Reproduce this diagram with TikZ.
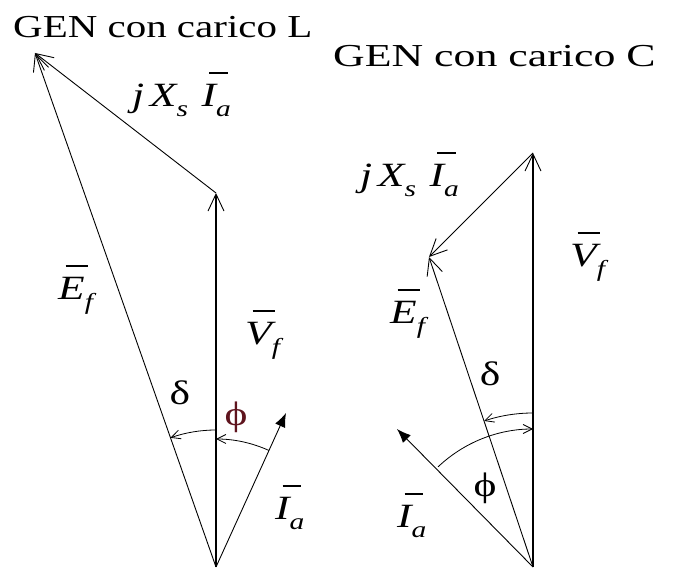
\documentclass[tikz,border=0pt]{standalone}
\usepackage{fontspec}
\setmainfont{Liberation Serif}[FakeStretch=1.28]
\usetikzlibrary{arrows.meta}
\definecolor{phired}{RGB}{95,20,30}
\newdimen\barwd
\newcommand{\ovl}[1]{{\sbox0{#1}\barwd=\dimexpr\wd0-0.12em\relax
  \ifdim\barwd<0.55em \barwd=0.55em\fi
  \rlap{\hspace{0.22em}\rule[\dimexpr\ht0+0.32em\relax]{\barwd}{0.045em}}\usebox0}}
\newcommand{\subsc}[1]{\raisebox{-0.28em}{\fontsize{23}{23}\selectfont\itshape #1}}
\newcommand{\phasor}[2]{\ovl{\itshape #1}\subsc{#2}}
\begin{document}
\begin{tikzpicture}[x=1pt,y=1pt,
  vec/.style={line width=0.9pt,-{Straight Barb[length=17pt,width=16pt,line width=0.9pt]}},
  vvec/.style={line width=1.3pt,-{Straight Barb[length=17pt,width=16pt,line width=0.9pt]}},
  ivec/.style={line width=0.9pt,-{Latex[length=14pt,width=11pt]}},
  arcarrow/.style={line width=0.8pt,-{Straight Barb[length=9pt,width=9pt,line width=0.8pt]}},
  lbl/.style={inner sep=0pt,font=\fontsize{34}{38}\selectfont},
  ttl/.style={inner sep=0pt,font=\fontsize{32}{36}\selectfont,anchor=base west}]
\useasboundingbox (0,0) rectangle (673,579);
% ---------- left diagram ----------
\coordinate (O1) at (216,12);
\coordinate (V1) at (216,386);
\coordinate (P1) at (35,526);
\coordinate (I1) at (286,166);
\draw[vvec] (O1) -- (V1);
\draw[vec] (V1) -- (P1);
\draw[vec] (O1) -- (P1);
\draw[ivec] (O1) -- (I1);
\draw[arcarrow] ([shift={(65.6:128)}]O1) arc[start angle=65.6,end angle=90,radius=128];
\draw[arcarrow] ([shift={(90:137)}]O1) arc[start angle=90,end angle=109.4,radius=137];
\node[ttl] (t1) at (13,541) {GEN con carico L};
\node[lbl,anchor=base west] (jx1) at (132,472) {{\itshape j\,X}\subsc{s}\hspace{0.4em}\phasor{I}{a}};
\node[lbl,anchor=base west] (vf1) at (245,234) {\phasor{V}{f}};
\node[lbl,anchor=base west] (ef1) at (58,279) {\phasor{E}{f}};
\node[lbl,anchor=base west] (ia1) at (275,59) {\phasor{I}{a}};
\node[lbl] (d1) at (180,186) {δ};
\node[lbl,text=phired] (p1) at (236,162) {ϕ};
% ---------- right diagram ----------
\coordinate (O2) at (533,12);
\coordinate (V2) at (533,426);
\coordinate (P2) at (429,322);
\coordinate (I2) at (397,150);
\draw[vvec] (O2) -- (V2);
\draw[vec] (V2) -- (P2);
\draw[vec] (O2) -- (P2);
\draw[ivec] (O2) -- (I2);
\draw[arcarrow] ([shift={(90:154)}]O2) arc[start angle=90,end angle=108.5,radius=154];
\draw[arcarrow] ([shift={(133.5:138)}]O2) arc[start angle=133.5,end angle=90,radius=138];
\node[ttl] (t2) at (333,512) {\scalebox{1.07}[1]{GEN con carico C}};
\node[lbl,anchor=base west] (jx2) at (360,392) {{\itshape j\,X}\subsc{s}\hspace{0.4em}\phasor{I}{a}};
\node[lbl,anchor=base west] (vf2) at (570,312) {\phasor{V}{f}};
\node[lbl,anchor=base west] (ef2) at (390,255) {\phasor{E}{f}};
\node[lbl,anchor=base west] (ia2) at (397,51) {\phasor{I}{a}};
\node[lbl] (d2) at (490,205) {δ};
\node[lbl] (p2) at (485,91) {ϕ};
\end{tikzpicture}
\end{document}
